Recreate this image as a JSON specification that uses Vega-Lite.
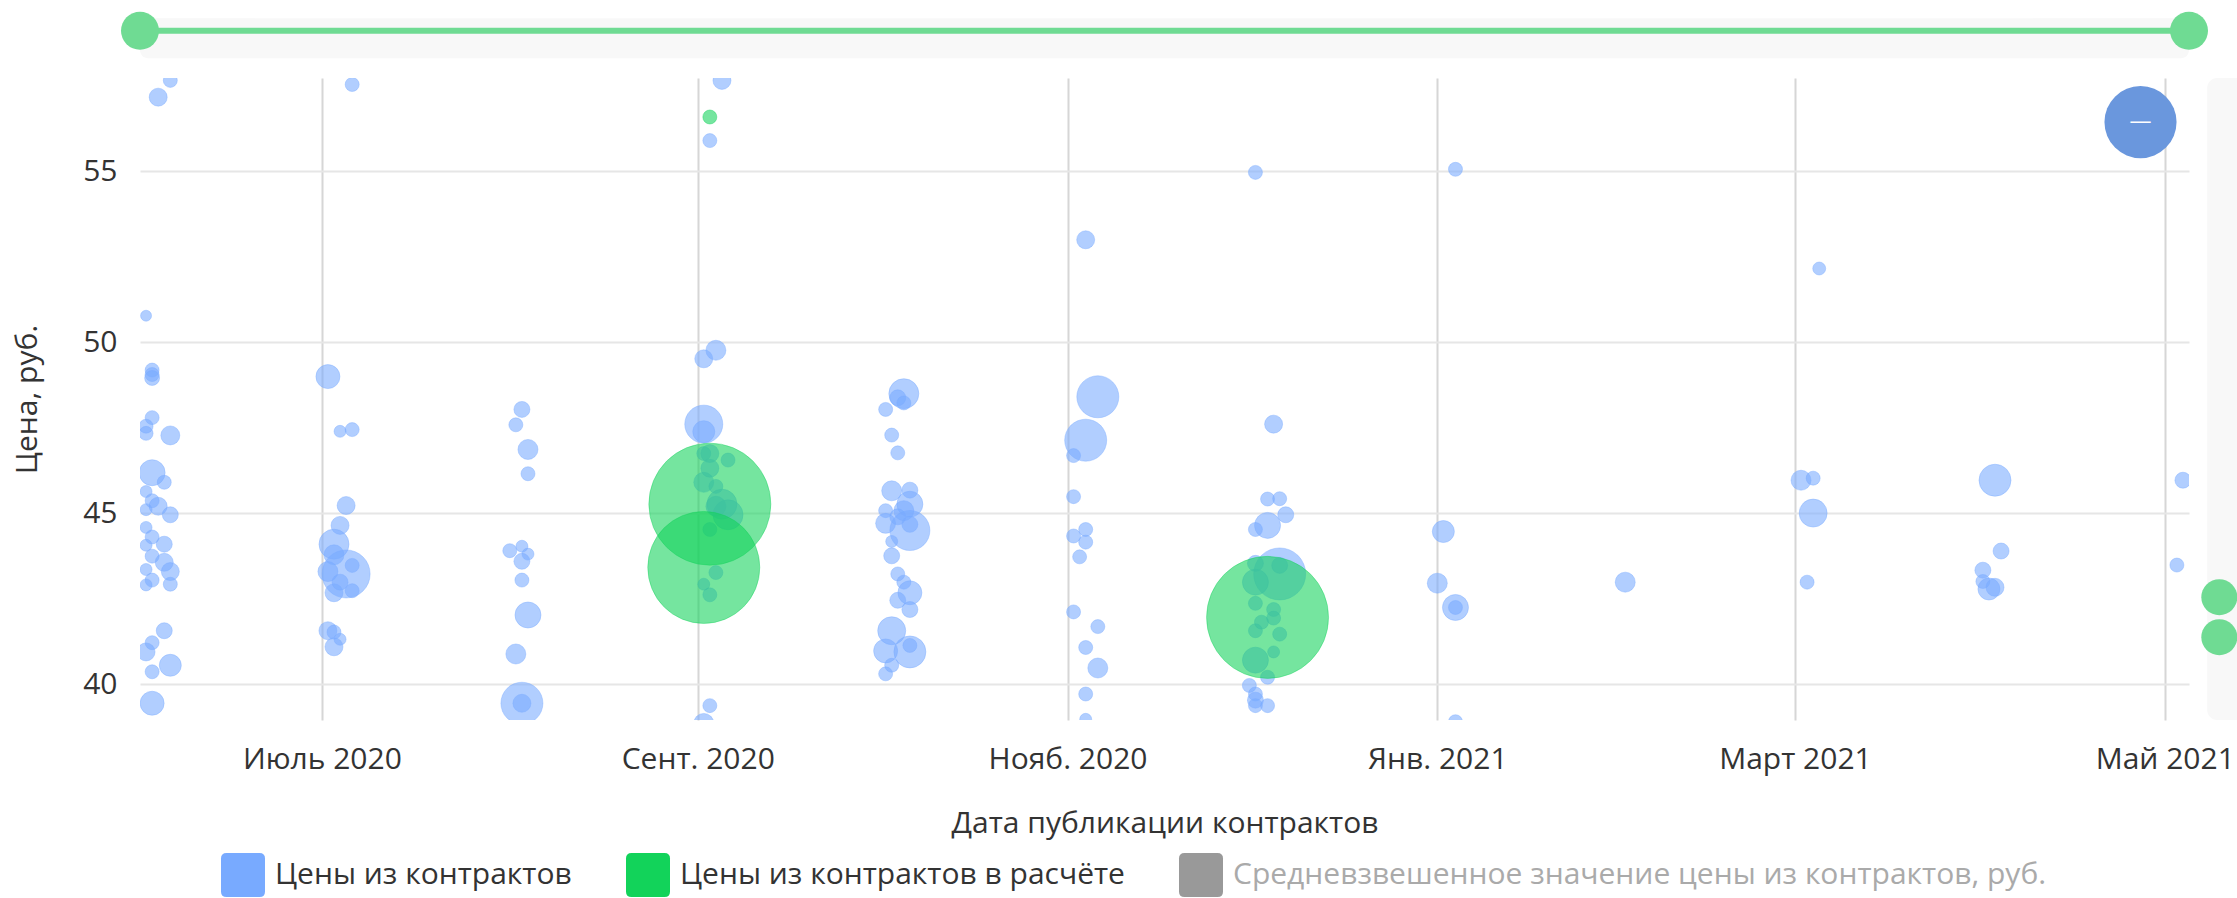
{
  "$schema": "https://vega.github.io/schema/vega-lite/v6.json",
  "width": 2049,
  "height": 642,
  "autosize": {"type": "none"},
  "padding": {"left": 140, "top": 78, "right": 48, "bottom": 178},
  "background": "#ffffff",
  "config": {
    "view": {"stroke": null},
    "font": "Open Sans",
    "axis": {"labelFont": "Open Sans", "titleFont": "Open Sans", "labelColor": "#333333", "titleColor": "#333333", "titleFontWeight": "normal"},
    "legend": {"labelFont": "Open Sans"}
  },
  "datasets": {
    "contracts": [
      {"date": "2020-06-06", "price": 57.65, "volume": 49, "series": "Цены из контрактов"},
      {"date": "2020-06-04", "price": 57.16, "volume": 81, "series": "Цены из контрактов"},
      {"date": "2020-06-02", "price": 50.77, "volume": 30, "series": "Цены из контрактов"},
      {"date": "2020-06-03", "price": 49.18, "volume": 49, "series": "Цены из контрактов"},
      {"date": "2020-06-03", "price": 49.05, "volume": 49, "series": "Цены из контрактов"},
      {"date": "2020-06-03", "price": 48.95, "volume": 56, "series": "Цены из контрактов"},
      {"date": "2020-06-03", "price": 47.79, "volume": 49, "series": "Цены из контрактов"},
      {"date": "2020-06-02", "price": 47.54, "volume": 49, "series": "Цены из контрактов"},
      {"date": "2020-06-02", "price": 47.33, "volume": 49, "series": "Цены из контрактов"},
      {"date": "2020-06-06", "price": 47.27, "volume": 90, "series": "Цены из контрактов"},
      {"date": "2020-06-03", "price": 46.18, "volume": 169, "series": "Цены из контрактов"},
      {"date": "2020-06-05", "price": 45.9, "volume": 49, "series": "Цены из контрактов"},
      {"date": "2020-06-02", "price": 45.63, "volume": 36, "series": "Цены из контрактов"},
      {"date": "2020-06-03", "price": 45.36, "volume": 49, "series": "Цены из контрактов"},
      {"date": "2020-06-04", "price": 45.2, "volume": 81, "series": "Цены из контрактов"},
      {"date": "2020-06-06", "price": 44.95, "volume": 64, "series": "Цены из контрактов"},
      {"date": "2020-06-02", "price": 45.1, "volume": 36, "series": "Цены из контрактов"},
      {"date": "2020-06-02", "price": 44.58, "volume": 36, "series": "Цены из контрактов"},
      {"date": "2020-06-03", "price": 44.3, "volume": 49, "series": "Цены из контрактов"},
      {"date": "2020-06-05", "price": 44.09, "volume": 64, "series": "Цены из контрактов"},
      {"date": "2020-06-02", "price": 44.06, "volume": 36, "series": "Цены из контрактов"},
      {"date": "2020-06-03", "price": 43.74, "volume": 49, "series": "Цены из контрактов"},
      {"date": "2020-06-05", "price": 43.56, "volume": 81, "series": "Цены из контрактов"},
      {"date": "2020-06-02", "price": 43.35, "volume": 36, "series": "Цены из контрактов"},
      {"date": "2020-06-06", "price": 43.29, "volume": 81, "series": "Цены из контрактов"},
      {"date": "2020-06-03", "price": 43.04, "volume": 49, "series": "Цены из контрактов"},
      {"date": "2020-06-02", "price": 42.9, "volume": 36, "series": "Цены из контрактов"},
      {"date": "2020-06-06", "price": 42.92, "volume": 49, "series": "Цены из контрактов"},
      {"date": "2020-06-05", "price": 41.56, "volume": 64, "series": "Цены из контрактов"},
      {"date": "2020-06-03", "price": 41.21, "volume": 49, "series": "Цены из контрактов"},
      {"date": "2020-06-02", "price": 40.94, "volume": 81, "series": "Цены из контрактов"},
      {"date": "2020-06-06", "price": 40.55, "volume": 121, "series": "Цены из контрактов"},
      {"date": "2020-06-03", "price": 40.36, "volume": 49, "series": "Цены из контрактов"},
      {"date": "2020-06-03", "price": 39.44, "volume": 144, "series": "Цены из контрактов"},
      {"date": "2020-07-06", "price": 57.53, "volume": 49, "series": "Цены из контрактов"},
      {"date": "2020-07-02", "price": 48.99, "volume": 144, "series": "Цены из контрактов"},
      {"date": "2020-07-04", "price": 47.39, "volume": 36, "series": "Цены из контрактов"},
      {"date": "2020-07-06", "price": 47.44, "volume": 49, "series": "Цены из контрактов"},
      {"date": "2020-07-05", "price": 45.22, "volume": 81, "series": "Цены из контрактов"},
      {"date": "2020-07-04", "price": 44.64, "volume": 81, "series": "Цены из контрактов"},
      {"date": "2020-07-03", "price": 44.09, "volume": 225, "series": "Цены из контрактов"},
      {"date": "2020-07-05", "price": 43.22, "volume": 576, "series": "Цены из контрактов"},
      {"date": "2020-07-06", "price": 43.47, "volume": 49, "series": "Цены из контрактов"},
      {"date": "2020-07-03", "price": 43.78, "volume": 100, "series": "Цены из контрактов"},
      {"date": "2020-07-02", "price": 43.29, "volume": 100, "series": "Цены из контрактов"},
      {"date": "2020-07-03", "price": 42.67, "volume": 81, "series": "Цены из контрактов"},
      {"date": "2020-07-06", "price": 42.73, "volume": 49, "series": "Цены из контрактов"},
      {"date": "2020-07-04", "price": 42.98, "volume": 64, "series": "Цены из контрактов"},
      {"date": "2020-07-02", "price": 41.56, "volume": 81, "series": "Цены из контрактов"},
      {"date": "2020-07-03", "price": 41.52, "volume": 49, "series": "Цены из контрактов"},
      {"date": "2020-07-04", "price": 41.31, "volume": 36, "series": "Цены из контрактов"},
      {"date": "2020-07-03", "price": 41.09, "volume": 81, "series": "Цены из контрактов"},
      {"date": "2020-08-03", "price": 48.03, "volume": 64, "series": "Цены из контрактов"},
      {"date": "2020-08-02", "price": 47.58, "volume": 49, "series": "Цены из контрактов"},
      {"date": "2020-08-04", "price": 46.86, "volume": 100, "series": "Цены из контрактов"},
      {"date": "2020-08-04", "price": 46.15, "volume": 49, "series": "Цены из контрактов"},
      {"date": "2020-08-01", "price": 43.9, "volume": 49, "series": "Цены из контрактов"},
      {"date": "2020-08-03", "price": 44.03, "volume": 36, "series": "Цены из контрактов"},
      {"date": "2020-08-04", "price": 43.8, "volume": 36, "series": "Цены из контрактов"},
      {"date": "2020-08-03", "price": 43.59, "volume": 64, "series": "Цены из контрактов"},
      {"date": "2020-08-03", "price": 43.04, "volume": 49, "series": "Цены из контрактов"},
      {"date": "2020-08-04", "price": 42.02, "volume": 169, "series": "Цены из контрактов"},
      {"date": "2020-08-02", "price": 40.88, "volume": 100, "series": "Цены из контрактов"},
      {"date": "2020-08-03", "price": 39.44, "volume": 441, "series": "Цены из контрактов"},
      {"date": "2020-08-03", "price": 39.44, "volume": 81, "series": "Цены из контрактов"},
      {"date": "2020-09-05", "price": 57.65, "volume": 81, "series": "Цены из контрактов"},
      {"date": "2020-09-03", "price": 55.89, "volume": 49, "series": "Цены из контрактов"},
      {"date": "2020-09-02", "price": 49.51, "volume": 81, "series": "Цены из контрактов"},
      {"date": "2020-09-04", "price": 49.76, "volume": 100, "series": "Цены из контрактов"},
      {"date": "2020-09-02", "price": 47.6, "volume": 361, "series": "Цены из контрактов"},
      {"date": "2020-09-02", "price": 47.38, "volume": 121, "series": "Цены из контрактов"},
      {"date": "2020-09-02", "price": 46.74, "volume": 49, "series": "Цены из контрактов"},
      {"date": "2020-09-03", "price": 46.74, "volume": 81, "series": "Цены из контрактов"},
      {"date": "2020-09-06", "price": 46.55, "volume": 49, "series": "Цены из контрактов"},
      {"date": "2020-09-03", "price": 46.31, "volume": 81, "series": "Цены из контрактов"},
      {"date": "2020-09-02", "price": 45.9, "volume": 100, "series": "Цены из контрактов"},
      {"date": "2020-09-04", "price": 45.78, "volume": 49, "series": "Цены из контрактов"},
      {"date": "2020-09-05", "price": 45.26, "volume": 225, "series": "Цены из контрактов"},
      {"date": "2020-09-06", "price": 44.95, "volume": 225, "series": "Цены из контрактов"},
      {"date": "2020-09-04", "price": 45.2, "volume": 100, "series": "Цены из контрактов"},
      {"date": "2020-09-03", "price": 44.52, "volume": 49, "series": "Цены из контрактов"},
      {"date": "2020-09-04", "price": 43.26, "volume": 49, "series": "Цены из контрактов"},
      {"date": "2020-09-02", "price": 42.92, "volume": 36, "series": "Цены из контрактов"},
      {"date": "2020-09-03", "price": 42.61, "volume": 49, "series": "Цены из контрактов"},
      {"date": "2020-09-03", "price": 39.37, "volume": 49, "series": "Цены из контрактов"},
      {"date": "2020-09-02", "price": 38.85, "volume": 100, "series": "Цены из контрактов"},
      {"date": "2020-10-05", "price": 48.49, "volume": 225, "series": "Цены из контрактов"},
      {"date": "2020-10-04", "price": 48.37, "volume": 64, "series": "Цены из контрактов"},
      {"date": "2020-10-05", "price": 48.22, "volume": 49, "series": "Цены из контрактов"},
      {"date": "2020-10-02", "price": 48.03, "volume": 49, "series": "Цены из контрактов"},
      {"date": "2020-10-03", "price": 47.28, "volume": 49, "series": "Цены из контрактов"},
      {"date": "2020-10-04", "price": 46.76, "volume": 49, "series": "Цены из контрактов"},
      {"date": "2020-10-03", "price": 45.65, "volume": 100, "series": "Цены из контрактов"},
      {"date": "2020-10-06", "price": 45.67, "volume": 64, "series": "Цены из контрактов"},
      {"date": "2020-10-06", "price": 45.26, "volume": 169, "series": "Цены из контрактов"},
      {"date": "2020-10-02", "price": 45.07, "volume": 49, "series": "Цены из контрактов"},
      {"date": "2020-10-02", "price": 44.7, "volume": 100, "series": "Цены из контрактов"},
      {"date": "2020-10-04", "price": 44.89, "volume": 64, "series": "Цены из контрактов"},
      {"date": "2020-10-05", "price": 45.07, "volume": 100, "series": "Цены из контрактов"},
      {"date": "2020-10-06", "price": 44.49, "volume": 400, "series": "Цены из контрактов"},
      {"date": "2020-10-06", "price": 44.67, "volume": 64, "series": "Цены из контрактов"},
      {"date": "2020-10-03", "price": 44.17, "volume": 36, "series": "Цены из контрактов"},
      {"date": "2020-10-03", "price": 43.75, "volume": 64, "series": "Цены из контрактов"},
      {"date": "2020-10-04", "price": 43.22, "volume": 49, "series": "Цены из контрактов"},
      {"date": "2020-10-05", "price": 42.98, "volume": 49, "series": "Цены из контрактов"},
      {"date": "2020-10-06", "price": 42.67, "volume": 144, "series": "Цены из контрактов"},
      {"date": "2020-10-04", "price": 42.45, "volume": 64, "series": "Цены из контрактов"},
      {"date": "2020-10-06", "price": 42.18, "volume": 64, "series": "Цены из контрактов"},
      {"date": "2020-10-03", "price": 41.56, "volume": 196, "series": "Цены из контрактов"},
      {"date": "2020-10-02", "price": 40.97, "volume": 144, "series": "Цены из контрактов"},
      {"date": "2020-10-06", "price": 40.94, "volume": 256, "series": "Цены из контрактов"},
      {"date": "2020-10-06", "price": 41.13, "volume": 49, "series": "Цены из контрактов"},
      {"date": "2020-10-03", "price": 40.55, "volume": 49, "series": "Цены из контрактов"},
      {"date": "2020-10-02", "price": 40.3, "volume": 49, "series": "Цены из контрактов"},
      {"date": "2020-11-04", "price": 52.99, "volume": 81, "series": "Цены из контрактов"},
      {"date": "2020-11-06", "price": 48.4, "volume": 441, "series": "Цены из контрактов"},
      {"date": "2020-11-04", "price": 47.13, "volume": 441, "series": "Цены из контрактов"},
      {"date": "2020-11-02", "price": 46.68, "volume": 49, "series": "Цены из контрактов"},
      {"date": "2020-11-02", "price": 45.48, "volume": 49, "series": "Цены из контрактов"},
      {"date": "2020-11-02", "price": 44.33, "volume": 49, "series": "Цены из контрактов"},
      {"date": "2020-11-04", "price": 44.52, "volume": 49, "series": "Цены из контрактов"},
      {"date": "2020-11-04", "price": 44.15, "volume": 49, "series": "Цены из контрактов"},
      {"date": "2020-11-03", "price": 43.72, "volume": 49, "series": "Цены из контрактов"},
      {"date": "2020-11-02", "price": 42.11, "volume": 49, "series": "Цены из контрактов"},
      {"date": "2020-11-06", "price": 41.68, "volume": 49, "series": "Цены из контрактов"},
      {"date": "2020-11-04", "price": 41.07, "volume": 49, "series": "Цены из контрактов"},
      {"date": "2020-11-06", "price": 40.47, "volume": 100, "series": "Цены из контрактов"},
      {"date": "2020-11-04", "price": 39.71, "volume": 49, "series": "Цены из контрактов"},
      {"date": "2020-11-04", "price": 38.97, "volume": 36, "series": "Цены из контрактов"},
      {"date": "2020-12-02", "price": 54.96, "volume": 49, "series": "Цены из контрактов"},
      {"date": "2020-12-05", "price": 47.6, "volume": 81, "series": "Цены из контрактов"},
      {"date": "2020-12-04", "price": 45.41, "volume": 49, "series": "Цены из контрактов"},
      {"date": "2020-12-06", "price": 45.42, "volume": 49, "series": "Цены из контрактов"},
      {"date": "2020-12-07", "price": 44.95, "volume": 64, "series": "Цены из контрактов"},
      {"date": "2020-12-04", "price": 44.64, "volume": 169, "series": "Цены из контрактов"},
      {"date": "2020-12-02", "price": 44.52, "volume": 49, "series": "Цены из контрактов"},
      {"date": "2020-12-06", "price": 43.22, "volume": 676, "series": "Цены из контрактов"},
      {"date": "2020-12-06", "price": 43.47, "volume": 64, "series": "Цены из контрактов"},
      {"date": "2020-12-02", "price": 42.98, "volume": 169, "series": "Цены из контрактов"},
      {"date": "2020-12-02", "price": 43.53, "volume": 64, "series": "Цены из контрактов"},
      {"date": "2020-12-02", "price": 42.36, "volume": 49, "series": "Цены из контрактов"},
      {"date": "2020-12-05", "price": 42.18, "volume": 49, "series": "Цены из контрактов"},
      {"date": "2020-12-05", "price": 41.93, "volume": 49, "series": "Цены из контрактов"},
      {"date": "2020-12-03", "price": 41.81, "volume": 49, "series": "Цены из контрактов"},
      {"date": "2020-12-02", "price": 41.56, "volume": 49, "series": "Цены из контрактов"},
      {"date": "2020-12-06", "price": 41.46, "volume": 49, "series": "Цены из контрактов"},
      {"date": "2020-12-05", "price": 40.94, "volume": 36, "series": "Цены из контрактов"},
      {"date": "2020-12-02", "price": 40.7, "volume": 169, "series": "Цены из контрактов"},
      {"date": "2020-12-04", "price": 40.2, "volume": 49, "series": "Цены из контрактов"},
      {"date": "2020-12-01", "price": 39.96, "volume": 49, "series": "Цены из контрактов"},
      {"date": "2020-12-02", "price": 39.71, "volume": 49, "series": "Цены из контрактов"},
      {"date": "2020-12-02", "price": 39.53, "volume": 64, "series": "Цены из контрактов"},
      {"date": "2020-12-02", "price": 39.37, "volume": 49, "series": "Цены из контрактов"},
      {"date": "2020-12-04", "price": 39.37, "volume": 49, "series": "Цены из контрактов"},
      {"date": "2021-01-04", "price": 55.05, "volume": 49, "series": "Цены из контрактов"},
      {"date": "2021-01-02", "price": 44.46, "volume": 121, "series": "Цены из контрактов"},
      {"date": "2021-01-01", "price": 42.95, "volume": 100, "series": "Цены из контрактов"},
      {"date": "2021-01-04", "price": 42.24, "volume": 169, "series": "Цены из контрактов"},
      {"date": "2021-01-04", "price": 42.24, "volume": 49, "series": "Цены из контрактов"},
      {"date": "2021-01-04", "price": 38.9, "volume": 49, "series": "Цены из контрактов"},
      {"date": "2021-02-01", "price": 42.98, "volume": 100, "series": "Цены из контрактов"},
      {"date": "2021-03-05", "price": 52.15, "volume": 42, "series": "Цены из контрактов"},
      {"date": "2021-03-02", "price": 45.96, "volume": 100, "series": "Цены из контрактов"},
      {"date": "2021-03-04", "price": 46.02, "volume": 49, "series": "Цены из контрактов"},
      {"date": "2021-03-04", "price": 45.0, "volume": 196, "series": "Цены из контрактов"},
      {"date": "2021-03-03", "price": 42.98, "volume": 49, "series": "Цены из контрактов"},
      {"date": "2021-04-03", "price": 45.96, "volume": 256, "series": "Цены из контрактов"},
      {"date": "2021-04-04", "price": 43.89, "volume": 64, "series": "Цены из контрактов"},
      {"date": "2021-04-01", "price": 43.33, "volume": 64, "series": "Цены из контрактов"},
      {"date": "2021-04-01", "price": 43.0, "volume": 49, "series": "Цены из контрактов"},
      {"date": "2021-04-02", "price": 42.78, "volume": 121, "series": "Цены из контрактов"},
      {"date": "2021-04-03", "price": 42.83, "volume": 81, "series": "Цены из контрактов"},
      {"date": "2021-05-04", "price": 45.96, "volume": 64, "series": "Цены из контрактов"},
      {"date": "2021-05-03", "price": 43.48, "volume": 49, "series": "Цены из контрактов"},
      {"date": "2020-09-03", "price": 56.58, "volume": 49, "series": "Цены из контрактов в расчёте"},
      {"date": "2020-09-03", "price": 45.26, "volume": 3721, "series": "Цены из контрактов в расчёте"},
      {"date": "2020-09-02", "price": 43.41, "volume": 3136, "series": "Цены из контрактов в расчёте"},
      {"date": "2020-12-04", "price": 41.95, "volume": 3721, "series": "Цены из контрактов в расчёте"}
    ]
  },
  "layer": [
    {
      "data": {"name": "contracts"},
      "mark": {"type": "point", "filled": true, "fillOpacity": 0.58, "strokeWidth": 1, "strokeOpacity": 0.4, "clip": true},
      "encoding": {
        "x": {
          "field": "date", "type": "temporal",
          "scale": {"type": "utc", "domain": [{"year": 2020, "month": 6, "date": 1, "utc": true}, {"year": 2021, "month": 5, "date": 5, "utc": true}]},
          "axis": {
            "title": "Дата публикации контрактов",
            "values": [
              {"year": 2020, "month": 7, "date": 1, "utc": true},
              {"year": 2020, "month": 9, "date": 1, "utc": true},
              {"year": 2020, "month": 11, "date": 1, "utc": true},
              {"year": 2021, "month": 1, "date": 1, "utc": true},
              {"year": 2021, "month": 3, "date": 1, "utc": true},
              {"year": 2021, "month": 5, "date": 1, "utc": true}
            ],
            "labelExpr": "['Янв.','Февр.','Март','Апр.','Май','Июнь','Июль','Авг.','Сент.','Окт.','Нояб.','Дек.'][utcmonth(datum.value)] + ' ' + utcyear(datum.value)",
            "grid": true, "gridColor": "#d6d6d6", "gridWidth": 2,
            "domain": false, "ticks": false,
            "labelFontSize": 30, "labelPadding": 24, "labelFlush": false, "labelOverlap": false,
            "titleFontSize": 30, "titlePadding": 34
          }
        },
        "y": {
          "field": "price", "type": "quantitative",
          "scale": {"domain": [38.95, 57.72], "nice": false, "zero": false},
          "axis": {
            "title": "Цена, руб.",
            "values": [40, 45, 50, 55],
            "grid": true, "gridColor": "#e6e6e6", "gridWidth": 2,
            "domain": false, "ticks": false,
            "labelFontSize": 30, "labelPadding": 23,
            "titleFontSize": 30, "titlePadding": 40
          }
        },
        "size": {"field": "volume", "type": "quantitative", "scale": {"type": "linear", "domain": [0, 3721], "range": [0, 14884], "zero": true}, "legend": null},
        "color": {
          "field": "series", "type": "nominal",
          "scale": {"domain": ["Цены из контрактов", "Цены из контрактов в расчёте", "Средневзвешенное значение цены из контрактов, руб."], "range": ["#78aaff", "#12d35a", "#999999"]},
          "legend": {
            "title": null, "orient": "none", "direction": "horizontal",
            "legendX": 81, "legendY": 775, "padding": 0,
            "symbolType": "M-1,-0.75Q-1,-1,-0.75,-1L0.75,-1Q1,-1,1,-0.75L1,0.75Q1,1,0.75,1L-0.75,1Q-1,1,-1,0.75Z",
            "symbolSize": 1936, "symbolOpacity": 1, "symbolStrokeWidth": 0,
            "labelFontSize": 30, "labelColor": "#333333", "labelOffset": 10, "columnPadding": 54, "labelLimit": 1000,
            "encode": {
              "labels": {"update": {"fill": {"signal": "datum.value === 'Средневзвешенное значение цены из контрактов, руб.' ? '#aaaaaa' : '#333333'"}}},
              "symbols": {"update": {"fillOpacity": {"value": 1}, "opacity": {"value": 1}, "strokeWidth": {"value": 0}}}
            }
          }
        },
        "stroke": {
          "field": "series", "type": "nominal",
          "scale": {"domain": ["Цены из контрактов", "Цены из контрактов в расчёте", "Средневзвешенное значение цены из контрактов, руб."], "range": ["#78aaff", "#12d35a", "#999999"]},
          "legend": null
        }
      }
    },
    {
      "data": {"values": [{"start": "2020-06-01", "end": "2021-05-05"}]},
      "mark": {"type": "rect", "color": "#f8f8f8", "cornerRadius": 8},
      "encoding": {
        "x": {"field": "start", "type": "temporal"},
        "x2": {"field": "end"},
        "y": {"datum": 59.47, "type": "quantitative"},
        "y2": {"datum": 58.3}
      }
    },
    {
      "data": {"values": [{"start": "2020-06-01", "end": "2021-05-05"}]},
      "mark": {"type": "rule", "color": "#6fdb93", "strokeWidth": 6},
      "encoding": {
        "x": {"field": "start", "type": "temporal"},
        "x2": {"field": "end"},
        "y": {"datum": 59.1, "type": "quantitative"}
      }
    },
    {
      "data": {"values": [{"handle": "2020-06-01"}, {"handle": "2021-05-05"}]},
      "mark": {"type": "point", "filled": true, "color": "#6fdb93", "opacity": 1, "size": 1444},
      "encoding": {
        "x": {"field": "handle", "type": "temporal"},
        "y": {"datum": 59.1, "type": "quantitative"}
      }
    },
    {
      "data": {"values": [{"button": "2021-04-27"}]},
      "mark": {"type": "point", "filled": true, "color": "#6a97dd", "opacity": 1, "size": 5200},
      "encoding": {
        "x": {"field": "button", "type": "temporal"},
        "y": {"datum": 56.43, "type": "quantitative"}
      }
    },
    {
      "data": {"values": [{"button": "2021-04-27", "label": "—"}]},
      "mark": {"type": "text", "color": "#ffffff", "fontSize": 22, "baseline": "middle", "align": "center", "dy": -1},
      "encoding": {
        "x": {"field": "button", "type": "temporal"},
        "y": {"datum": 56.43, "type": "quantitative"},
        "text": {"field": "label"}
      }
    },
    {
      "data": {"values": [{"start": "2021-05-08", "end": "2021-05-25"}]},
      "mark": {"type": "rect", "color": "#f8f8f8", "cornerRadius": 10},
      "encoding": {
        "x": {"field": "start", "type": "temporal"},
        "x2": {"field": "end"},
        "y": {"datum": 57.72, "type": "quantitative"},
        "y2": {"datum": 38.95}
      }
    },
    {
      "data": {"values": [{"handle": "2021-05-10", "level": 42.54}, {"handle": "2021-05-10", "level": 41.37}]},
      "mark": {"type": "point", "filled": true, "color": "#6fdb93", "opacity": 1, "size": 1296},
      "encoding": {
        "x": {"field": "handle", "type": "temporal"},
        "y": {"field": "level", "type": "quantitative"}
      }
    }
  ]
}
